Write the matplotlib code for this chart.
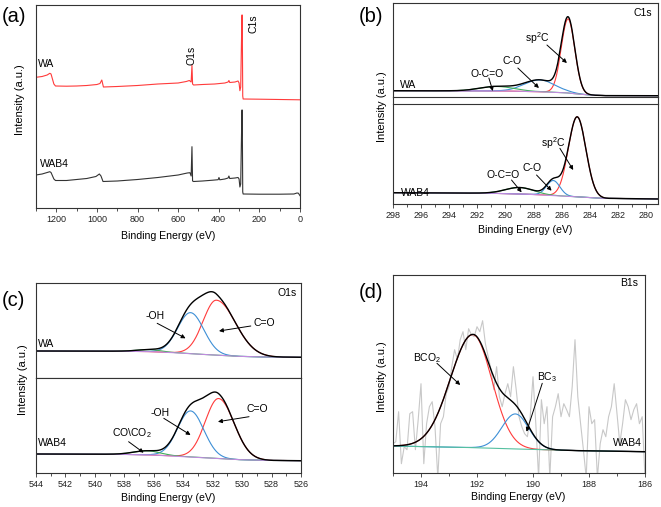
import numpy as np
import matplotlib
matplotlib.use('Agg')
import matplotlib.pyplot as plt
from matplotlib.ticker import MultipleLocator, NullLocator
from matplotlib.lines import Line2D

plt.rcParams['font.family'] = ['Liberation Sans', 'DejaVu Sans']
plt.rcParams['mathtext.fontset'] = 'custom'
plt.rcParams['mathtext.rm'] = 'Liberation Sans'
plt.rcParams['mathtext.it'] = 'Liberation Sans:italic'

# ---------------- data ----------------
# (a) survey spectra (binding energy eV, intensity a.u.)
survey_wa_ev = [1300, 1270, 1245, 1232, 1226, 1212, 1204, 1150, 1100, 1050, 1000, 985, 976, 968,
                900, 800, 700, 600, 560, 545, 536, 532, 529, 524, 480, 420, 370, 354, 350, 346,
                320, 305, 300, 296, 292, 286, 284.5, 282, 280, 200, 100, 0]
survey_wa_int = [130.7, 131.5, 133, 134.7, 134, 124, 122, 121.8, 122, 122.5, 123.5, 124.5, 128, 121,
                 121.5, 122.5, 124, 125, 126.5, 127.5, 126, 142.7, 124, 123, 123.5, 124, 125, 126, 127.5, 125.5,
                 126, 127, 125, 117.3, 121, 193, 193, 112, 109, 108.8, 108.5, 108.2]
survey_wab4_ev = [1300, 1270, 1245, 1232, 1226, 1212, 1204, 1150, 1100, 1050, 1005, 988, 980, 970,
                  900, 800, 700, 600, 555, 542, 536, 532, 529, 524, 480, 430, 403, 399, 395, 370,
                  354, 350, 346, 320, 305, 300, 296, 292, 286, 284.5, 282, 280, 200, 100, 30, 15, 8, 0]
survey_wab4_int = [33, 34, 35.5, 36.3, 35.5, 29, 27.5, 27.5, 28.5, 29.5, 31.5, 34, 32, 26.5,
                   27, 28.5, 30.5, 33, 35, 35.3, 32, 61.3, 27, 26.5, 27, 27.8, 28.3, 30.5, 28.2, 29,
                   30, 32, 29.5, 30, 30.5, 29, 21, 24, 98, 98, 16, 14, 13.8, 13.8, 14, 15, 14.8, 12.3]

# (b) C1s fits
c1s_wa_bg_ev = [298, 291, 289, 287, 285.5, 284.5, 283.5, 282.5, 279]
c1s_wa_bg_int = [6.3, 6.1, 5.8, 5.0, 4.0, 2.5, 1.6, 1.3, 1.3]
c1s_wa_center = [285.55, 287.55, 290.6]
c1s_wa_height = [74, 11.8, 4.5]
c1s_wa_sig_hi = [0.48, 1.1, 1.2]
c1s_wa_sig_lo = [0.48, 1.1, 1.2]

c1s_wab4_bg_ev = [298, 291, 288, 286, 284, 283, 279]
c1s_wab4_bg_int = [11.3, 10.8, 9.6, 8.0, 6.5, 5.6, 5.0]
c1s_wab4_center = [284.9, 286.6, 289.0]
c1s_wab4_height = [80, 15, 6.5]
c1s_wab4_sig_hi = [0.62, 0.47, 1.0]
c1s_wab4_sig_lo = [0.62, 0.47, 1.0]

# (c) O1s fits
o1s_wa_bg_ev = [544, 538, 536, 534, 532, 530, 528, 526]
o1s_wa_bg_int = [26.7, 26.5, 26.0, 24.5, 22.7, 21.2, 20.6, 20.4]
o1s_wa_center = [531.75, 533.5, 536.3]
o1s_wa_height = [55, 41, 2]
o1s_wa_sig_hi = [0.9, 0.88, 0.8]
o1s_wa_sig_lo = [1.3, 0.9, 0.8]

o1s_wab4_bg_ev = [544, 538, 536, 534, 532, 530, 528, 526]
o1s_wab4_bg_int = [19, 18.7, 18.0, 16.5, 14.8, 13.2, 12.5, 12.3]
o1s_wab4_center = [531.6, 533.5, 536.45]
o1s_wab4_height = [60, 46, 4]
o1s_wab4_sig_hi = [0.9, 0.88, 0.9]
o1s_wab4_sig_lo = [1.05, 0.9, 0.9]

# (d) B1s fit + raw data
b1s_bg_ev = [195, 192, 190, 188, 186]
b1s_bg_int = [26.7, 25.0, 23.2, 21.8, 21.0]
b1s_center = [192.15, 190.63]
b1s_height = [113, 35]
b1s_sig_hi = [0.8, 0.48]
b1s_sig_lo = [0.68, 0.48]
b1s_raw_ev = np.linspace(195.0, 186.0, 91)
b1s_raw_int = [29, 31, 61, 9, 26, 23, 59, 61, 23, 53,
               89, 9, 49, 66, 71, 46, -5, 49, 56, 79,
               86, 106, 123, 113, 133, 141, 123, 144, 138, 136,
               146, 141, 152, 129, 116, 103, 83, 106, 76, 66,
               79, 89, 76, 106, 83, 56, 46, 39, 36, 56,
               96, 49, -5, 73, 49, 66, -5, 56, 66, 79,
               56, 69, 63, 56, 86, 133, 76, 49, 23, -5,
               66, 49, 53, -5, 29, 43, 36, 56, 66, 89,
               59, 29, 49, 73, 66, 53, 63, 69, 49, 56, -5]

RED, BLUE, GREEN, PURPLE, TEAL = '#ff3b3b', '#3d8fd6', '#3fae5a', '#c08be0', '#55c0a0'

# ---------------- figure ----------------
W, H = 661, 507
fig = plt.figure(figsize=(W / 100, H / 100), dpi=100)


def box(x0, y0, x1, y1):
    return [x0 / W, 1 - y1 / H, (x1 - x0) / W, (y1 - y0) / H]


def ftext(x, y, s, **kw):
    fig.text(x / W, 1 - y / H, s, **kw)


def style(ax, xlim, ylim, major, minor, show_x=True):
    ax.set_xlim(*xlim)
    ax.set_ylim(*ylim)
    ax.xaxis.set_major_locator(MultipleLocator(major))
    ax.xaxis.set_minor_locator(MultipleLocator(minor))
    ax.yaxis.set_major_locator(NullLocator())
    ax.yaxis.set_minor_locator(NullLocator())
    ax.tick_params(axis='x', which='major', direction='out', length=3, width=0.6,
                   labelsize=6.5, pad=2, color='#333', labelcolor='#222')
    ax.tick_params(axis='x', which='minor', direction='out', length=2, width=0.6, color='#333')
    if not show_x:
        ax.tick_params(axis='x', which='both', bottom=False, labelbottom=False)
    for sp in ax.spines.values():
        sp.set_linewidth(0.8)
        sp.set_color('#333')


def draw_fit(ax, xlim, bg_ev, bg_int, centers, heights, s_hi, s_lo, colors, bg_color):
    x = np.linspace(min(xlim), max(xlim), 800)
    bg = np.interp(x, bg_ev[::-1], bg_int[::-1])
    total = bg.copy()
    for c, h, sh, sl, col in zip(centers, heights, s_hi, s_lo, colors):
        s = np.where(x >= c, sh, sl)
        g = h * np.exp(-0.5 * ((x - c) / s) ** 2)
        total += g
        ax.plot(x, bg + g, color=col, lw=0.8)
    ax.plot(x, bg, color=bg_color, lw=0.8)
    ax.plot(x, total, color='black', lw=1.0)


def arrow(ax, start, tip):
    ax.annotate('', xy=tip, xytext=start,
                arrowprops=dict(arrowstyle='-|>', color='black', lw=0.7,
                                mutation_scale=6, shrinkA=0, shrinkB=0))


FS = 7.5

# ---- (a) ----
axa = fig.add_axes(box(36, 5, 300, 208))
axa.plot(survey_wa_ev, survey_wa_int, color=RED, lw=0.8)
axa.plot(survey_wab4_ev, survey_wab4_int, color='#333333', lw=0.8)
style(axa, (1300, 0), (0, 203), 200, 100)
axa.text(1288, 143.7, 'WA', ha='left', va='center', fontsize=FS)
axa.text(1280, 44, 'WAB4', ha='left', va='center', fontsize=FS)
axa.text(533, 153, 'O1s', ha='center', va='center', fontsize=FS, rotation=90)
axa.text(230, 184.7, 'C1s', ha='center', va='center', fontsize=FS, rotation=90)

# ---- (b) ----
xb = (298, 279.15)
axb1 = fig.add_axes(box(393, 3, 658, 97))
axb2 = fig.add_axes(box(393, 104, 658, 204))
draw_fit(axb1, xb, c1s_wa_bg_ev, c1s_wa_bg_int, c1s_wa_center, c1s_wa_height,
         c1s_wa_sig_hi, c1s_wa_sig_lo, [RED, BLUE, GREEN], PURPLE)
draw_fit(axb2, xb, c1s_wab4_bg_ev, c1s_wab4_bg_int, c1s_wab4_center, c1s_wab4_height,
         c1s_wab4_sig_hi, c1s_wab4_sig_lo, [RED, BLUE, GREEN], PURPLE)
style(axb1, xb, (0, 94), 2, 1, show_x=False)
style(axb2, xb, (0, 100), 2, 1)
for xx in (393, 658):
    fig.add_artist(Line2D([xx / W, xx / W], [1 - 97 / H, 1 - 104 / H],
                          transform=fig.transFigure, color='#333', lw=0.8))
axb1.text(297.5, 12, 'WA', ha='left', va='center', fontsize=FS)
axb1.text(291.28, 23, 'O-C=O', ha='center', va='center', fontsize=FS)
arrow(axb1, (291.18, 19), (290.9, 6))
axb1.text(289.55, 36, 'C-O', ha='center', va='center', fontsize=FS)
arrow(axb1, (289.12, 29), (287.62, 9))
axb1.text(287.77, 59, 'sp$^2$C', ha='center', va='center', fontsize=FS)
arrow(axb1, (287.05, 52), (285.63, 34))
axb1.text(279.6, 84, 'C1s', ha='right', va='center', fontsize=FS)

axb2.text(297.4, 11.3, 'WAB4', ha='left', va='center', fontsize=FS)
axb2.text(290.17, 29, 'O-C=O', ha='center', va='center', fontsize=FS)
arrow(axb2, (289.57, 24), (288.85, 11.7))
axb2.text(288.14, 35.7, 'C-O', ha='center', va='center', fontsize=FS)
arrow(axb2, (287.79, 29), (286.72, 13.3))
axb2.text(286.6, 60.7, 'sp$^2$C', ha='center', va='center', fontsize=FS)
arrow(axb2, (286.13, 55.7), (285.18, 34))

# ---- (c) ----
xc = (544, 526)
axc1 = fig.add_axes(box(36, 283, 301, 377.7))
axc2 = fig.add_axes(box(36, 377.7, 301, 473))
draw_fit(axc1, xc, o1s_wa_bg_ev, o1s_wa_bg_int, o1s_wa_center, o1s_wa_height,
         o1s_wa_sig_hi, o1s_wa_sig_lo, [RED, BLUE, GREEN], PURPLE)
draw_fit(axc2, xc, o1s_wab4_bg_ev, o1s_wab4_bg_int, o1s_wab4_center, o1s_wab4_height,
         o1s_wab4_sig_hi, o1s_wab4_sig_lo, [RED, BLUE, GREEN], PURPLE)
style(axc1, xc, (0, 94.7), 2, 1, show_x=False)
style(axc2, xc, (0, 95.3), 2, 1)
axc1.text(543.84, 33.7, 'WA', ha='left', va='center', fontsize=FS)
axc1.text(535.89, 61.7, '-OH', ha='center', va='center', fontsize=FS)
arrow(axc1, (535.77, 54.4), (533.84, 39.4))
axc1.text(528.5, 55, 'C=O', ha='center', va='center', fontsize=FS)
arrow(axc1, (529.41, 51.7), (531.57, 46.7))
axc1.text(526.3, 85, 'O1s', ha='right', va='center', fontsize=FS)

axc2.text(543.84, 29.7, 'WAB4', ha='left', va='center', fontsize=FS)
axc2.text(535.55, 59.7, '-OH', ha='center', va='center', fontsize=FS)
arrow(axc2, (535.32, 54.7), (533.5, 38))
axc2.text(528.96, 63.7, 'C=O', ha='center', va='center', fontsize=FS)
arrow(axc2, (529.53, 56.3), (531.64, 51.3))
axc2.text(537.48, 40.3, 'CO\\CO$_2$', ha='center', va='center', fontsize=FS)
arrow(axc2, (537.71, 31.3), (536.69, 20.3))

# ---- (d) ----
xd = (195, 186)
axd = fig.add_axes(box(393, 275, 645, 472.7))
axd.plot(b1s_raw_ev, b1s_raw_int, color='#c8c8c8', lw=0.8)
draw_fit(axd, xd, b1s_bg_ev, b1s_bg_int, b1s_center, b1s_height,
         b1s_sig_hi, b1s_sig_lo, [RED, BLUE], TEAL)
style(axd, xd, (0, 197.7), 2, 1)
axd.text(193.79, 114.4, 'BCO$_2$', ha='center', va='center', fontsize=FS)
arrow(axd, (193.43, 109.4), (192.6, 87.7))
axd.text(189.49, 96, 'BC$_3$', ha='center', va='center', fontsize=FS)
arrow(axd, (189.67, 89.4), (190.23, 41))
axd.text(186.1, 30, 'WAB4', ha='right', va='center', fontsize=FS)
axd.text(186.25, 190, 'B1s', ha='right', va='center', fontsize=FS)

# ---- shared labels ----
for (x, y) in [(20, 100), (381.7, 106.7), (23.3, 380), (381.7, 376.7)]:
    ftext(x, y, 'Intensity (a.u.)', rotation=90, ha='center', va='center', fontsize=8)
for (x, y) in [(168.3, 236), (525, 230), (168.3, 498.3), (518.3, 497.3)]:
    ftext(x, y, 'Binding Energy (eV)', ha='center', va='center', fontsize=7.6)
for (x, y, s) in [(14, 16, '(a)'), (370.8, 16, '(b)'), (13.3, 300, '(c)'), (370.8, 293, '(d)')]:
    ftext(x, y, s, ha='center', va='center', fontsize=14.5)

fig.savefig('out.png', dpi=100)
